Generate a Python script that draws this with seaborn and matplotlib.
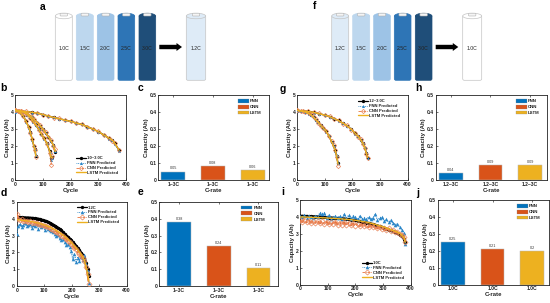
import matplotlib
matplotlib.use("Agg")
import matplotlib.pyplot as plt
from matplotlib.patches import FancyBboxPatch, Ellipse, Patch, FancyArrow
import seaborn as sns

sns.set_style("white")
plt.rcParams['font.family'] = ['Liberation Sans', 'DejaVu Sans']

W, H = 550, 303

MODEL_NAMES = ["FNN", "CNN", "LSTM"]
BAR_COLORS = ["#0072BD", "#D95319", "#EDB120"]

# ---- panel c, e, h, j bar values
c_vals = [0.05, 0.08, 0.06]
e_vals = [0.38, 0.24, 0.11]
h_vals = [0.04, 0.09, 0.09]
j_vals = [0.25, 0.21, 0.20]
c_labels = ["1~3C", "1~3C", "1~3C"]
e_labels = ["1~3C", "1~3C", "1~3C"]
h_labels = ["1.2~3C", "1.2~3C", "1.2~3C"]
j_labels = ["1.0C", "1.0C", "1.0C"]
c_text = ["0.05", "0.08", "0.06"]
e_text = ["0.38", "0.24", "0.11"]
h_text = ["0.04", "0.09", "0.09"]
j_text = ["0.25", "0.21", "0.2"]

# ---- panel b curves
b_x1 = [0, 10, 20, 30, 40, 50, 55, 62, 68, 72, 75]
b_meas1 = [4.1, 4.05, 3.95, 3.75, 3.45, 3.1, 2.8, 2.4, 2.0, 1.8, 1.42]
b_fnn1 = [4.0, 4.03, 3.93, 3.78, 3.42, 3.08, 2.82, 2.38, 2.02, 1.82, 1.45]
b_cnn1 = [4.12, 4.06, 3.96, 3.74, 3.46, 3.12, 2.78, 2.42, 1.98, 1.75, 1.38]
b_lstm1 = [4.1, 4.04, 3.95, 3.76, 3.44, 3.1, 2.8, 2.4, 2.0, 1.78, 1.42]

b_x2 = [0, 15, 30, 45, 55, 65, 75, 85, 95, 105, 115, 125, 130, 135]
b_meas2 = [4.1, 4.06, 4.0, 3.85, 3.65, 3.45, 3.25, 3.0, 2.7, 2.45, 2.15, 1.7, 1.3, 1.35]
b_fnn2 = [4.05, 4.05, 3.98, 3.83, 3.68, 3.42, 3.22, 3.02, 2.68, 2.42, 2.18, 1.65, 1.2, 1.3]
b_cnn2 = [4.12, 4.07, 4.0, 3.86, 3.63, 3.47, 3.27, 2.97, 2.72, 2.46, 2.1, 1.6, 0.9, 1.4]
b_lstm2 = [4.1, 4.06, 4.0, 3.85, 3.65, 3.45, 3.24, 3.0, 2.7, 2.45, 2.14, 1.7, 1.32, 1.36]

b_x3 = [0, 20, 40, 60, 70, 80, 90, 100, 110, 120, 130, 138, 145]
b_meas3 = [4.1, 4.05, 3.95, 3.72, 3.55, 3.38, 3.2, 3.0, 2.78, 2.55, 2.3, 2.05, 1.65]
b_fnn3 = [4.08, 4.04, 3.93, 3.74, 3.52, 3.4, 3.18, 3.02, 2.75, 2.58, 2.27, 2.07, 1.68]
b_cnn3 = [4.12, 4.06, 3.96, 3.7, 3.57, 3.36, 3.22, 2.97, 2.8, 2.52, 2.33, 2.0, 1.85]
b_lstm3 = [4.1, 4.05, 3.95, 3.72, 3.55, 3.38, 3.2, 3.0, 2.78, 2.55, 2.3, 2.05, 1.68]

b_x4 = [0, 20, 40, 60, 80, 100, 120, 140, 160, 180, 200, 220, 240, 260, 280, 300, 320, 340, 350, 360, 375]
b_meas4 = [4.1, 4.06, 4.02, 3.98, 3.95, 3.85, 3.76, 3.68, 3.6, 3.53, 3.45, 3.36, 3.27, 3.14, 3.0, 2.85, 2.65, 2.45, 2.35, 2.15, 1.75]
b_fnn4 = [4.08, 4.05, 4.0, 3.96, 3.93, 3.86, 3.74, 3.69, 3.61, 3.5, 3.46, 3.33, 3.28, 3.12, 3.02, 2.83, 2.66, 2.42, 2.38, 2.1, 1.72]
b_cnn4 = [4.1, 4.07, 4.03, 3.97, 3.96, 3.83, 3.78, 3.66, 3.62, 3.5, 3.47, 3.34, 3.3, 3.12, 3.02, 2.87, 2.62, 2.48, 2.32, 2.18, 1.78]
b_lstm4 = [4.1, 4.06, 4.02, 3.98, 3.94, 3.85, 3.76, 3.68, 3.6, 3.52, 3.45, 3.35, 3.27, 3.14, 3.0, 2.85, 2.65, 2.45, 2.35, 2.15, 1.75]

# ---- panel g curves
g_x1 = [0, 15, 30, 42, 50, 60, 68, 75, 85, 95, 105, 115, 125, 132, 138, 143, 148]
g_meas1 = [4.1, 4.06, 4.0, 3.92, 3.85, 3.7, 3.55, 3.42, 3.22, 3.05, 2.88, 2.6, 2.25, 2.0, 1.75, 1.42, 1.0]
g_fnn1 = [4.05, 4.05, 3.98, 3.9, 3.83, 3.72, 3.53, 3.4, 3.24, 3.03, 2.85, 2.62, 2.22, 1.98, 1.72, 1.45, 1.0]
g_cnn1 = [4.12, 4.07, 4.01, 3.93, 3.86, 3.68, 3.57, 3.38, 3.2, 3.07, 2.9, 2.57, 2.27, 2.03, 1.78, 1.38, 0.8]
g_lstm1 = [4.1, 4.06, 4.0, 3.92, 3.85, 3.7, 3.55, 3.42, 3.22, 3.05, 2.88, 2.6, 2.25, 2.0, 1.75, 1.42, 0.95]

g_x2 = [0, 20, 40, 60, 80, 100, 120, 135, 150, 165, 180, 195, 210, 220, 230, 238, 245, 250, 255]
g_meas2 = [4.1, 4.06, 4.03, 3.98, 3.9, 3.82, 3.72, 3.6, 3.5, 3.35, 3.2, 3.0, 2.75, 2.58, 2.38, 2.15, 1.9, 1.6, 1.3]
g_fnn2 = [4.05, 4.04, 4.01, 3.97, 3.88, 3.84, 3.7, 3.62, 3.47, 3.37, 3.18, 3.02, 2.72, 2.6, 2.35, 2.18, 1.92, 1.65, 1.3]
g_cnn2 = [4.12, 4.07, 4.04, 4.0, 3.92, 3.8, 3.74, 3.58, 3.53, 3.32, 3.22, 2.97, 2.78, 2.55, 2.42, 2.12, 1.88, 1.55, 1.3]
g_lstm2 = [4.1, 4.06, 4.03, 3.98, 3.9, 3.82, 3.72, 3.6, 3.5, 3.35, 3.2, 3.0, 2.75, 2.58, 2.38, 2.15, 1.9, 1.6, 1.32]

# ---- panel d curves
d_x = [0, 6, 12, 18, 24, 30, 36, 42, 48, 54, 60, 66, 72, 78, 84, 90, 96, 102, 108, 114,
       120, 126, 132, 138, 144, 150, 156, 162, 168, 174, 180, 186, 192, 198, 204, 210,
       216, 222, 228, 234, 240, 246, 252, 258, 262]
d_meas = [4.08, 4.08, 4.07, 4.07, 4.06, 4.06, 4.05, 4.05, 4.04, 4.03,
          4.02, 4.01, 4.0, 3.98, 3.96, 3.93, 3.9, 3.87, 3.84, 3.8,
          3.75, 3.7, 3.64, 3.58, 3.52, 3.45, 3.38, 3.3, 3.2, 3.1,
          3.0, 2.92, 2.82, 2.72, 2.6, 2.5, 2.38, 2.25, 2.12, 1.98,
          1.85, 1.7, 1.35, 1.0, 0.6]
d_fnn = [3.1, 3.55, 3.7, 3.5, 3.65, 3.75, 3.55, 3.6, 3.7, 3.45,
         3.65, 3.55, 3.7, 3.4, 3.6, 3.5, 3.55, 3.35, 3.5, 3.4,
         3.3, 3.25, 3.2, 3.1, 3.0, 3.05, 2.85, 2.75, 2.8, 2.6,
         2.45, 2.5, 2.3, 2.1, 1.6, 1.9, 1.45, 1.7, 1.5, 1.75,
         1.55, 1.85, 1.3, 0.9, 0.2]
d_cnn = [4.3, 3.98, 3.92, 3.95, 3.88, 3.84, 3.88, 3.8, 3.83, 3.76,
         3.78, 3.72, 3.75, 3.68, 3.66, 3.62, 3.64, 3.55, 3.55, 3.48,
         3.46, 3.38, 3.35, 3.28, 3.22, 3.15, 3.08, 3.0, 2.95, 2.85,
         2.8, 2.68, 2.6, 2.48, 2.4, 2.28, 2.18, 2.02, 1.92, 1.8,
         1.68, 1.5, 1.15, 0.7, 0.15]
d_lstm = [3.95, 3.93, 3.92, 3.9, 3.89, 3.88, 3.87, 3.85, 3.84, 3.82,
          3.8, 3.78, 3.76, 3.74, 3.71, 3.68, 3.65, 3.62, 3.58, 3.54,
          3.5, 3.45, 3.4, 3.35, 3.3, 3.23, 3.17, 3.1, 3.03, 2.95,
          2.87, 2.78, 2.69, 2.6, 2.48, 2.38, 2.27, 2.15, 2.02, 1.9,
          1.75, 1.55, 1.15, 0.75, 0.3]

# ---- panel i curves
i_x = [0, 8, 16, 24, 32, 40, 48, 56, 64, 72, 80, 88, 96, 104, 112, 120, 128, 136, 144, 152,
       160, 168, 176, 184, 192, 200, 208, 216, 224, 232, 240, 248, 256, 264, 272, 280,
       288, 296, 304, 312, 320, 328, 336, 344, 352, 360, 368, 376, 380]
i_meas = [4.05, 4.05, 4.04, 4.04, 4.03, 4.03, 4.02, 4.02, 4.01, 4.0,
          3.99, 3.98, 3.97, 3.96, 3.95, 3.94, 3.93, 3.92, 3.91, 3.9,
          3.89, 3.87, 3.85, 3.83, 3.81, 3.79, 3.76, 3.74, 3.72, 3.69,
          3.66, 3.63, 3.6, 3.56, 3.52, 3.48, 3.44, 3.4, 3.35, 3.3,
          3.24, 3.2, 3.15, 3.1, 3.03, 2.95, 2.85, 2.72, 2.5]
i_fnn = [4.05, 4.0, 4.1, 3.95, 4.08, 4.0, 3.95, 4.05, 4.0, 4.25,
         4.2, 4.25, 3.95, 4.1, 3.9, 4.0, 4.05, 3.95, 4.05, 3.9,
         4.15, 3.95, 4.1, 3.9, 4.05, 4.0, 3.85, 4.05, 3.9, 3.95,
         3.85, 4.0, 3.85, 3.95, 4.15, 3.8, 3.95, 4.0, 3.75, 3.85,
         3.7, 3.8, 3.65, 3.55, 3.6, 3.4, 3.25, 3.05, 2.4]
i_cnn = [3.8, 3.7, 3.82, 3.68, 3.78, 3.66, 3.76, 3.65, 3.75, 3.62,
         3.74, 3.6, 3.72, 3.58, 3.7, 3.56, 3.7, 3.55, 3.66, 3.55,
         3.68, 3.52, 3.65, 3.5, 3.62, 3.48, 3.6, 3.46, 3.56, 3.44,
         3.54, 3.4, 3.5, 3.38, 3.46, 3.32, 3.42, 3.28, 3.36, 3.22,
         3.32, 3.18, 3.22, 3.1, 3.1, 2.98, 2.95, 2.8, 2.55]
i_lstm = [4.0, 4.0, 3.99, 3.99, 3.98, 3.98, 3.97, 3.97, 3.96, 3.96,
          3.95, 3.95, 3.94, 3.93, 3.92, 3.92, 3.91, 3.9, 3.89, 3.88,
          3.87, 3.86, 3.85, 3.84, 3.82, 3.8, 3.78, 3.76, 3.74, 3.72,
          3.69, 3.66, 3.63, 3.6, 3.56, 3.52, 3.48, 3.44, 3.4, 3.35,
          3.3, 3.25, 3.2, 3.15, 3.1, 3.02, 2.92, 2.78, 2.5]

# ---- schematic cells
a_cells = ["1.0C", "1.5C", "2.0C", "2.5C", "3.0C", "1.2C"]
f_cells = ["1.2C", "1.5C", "2.0C", "2.5C", "3.0C", "1.0C"]
CELL_COLOR = {"1.0C": "#FFFFFF", "1.2C": "#DEEBF7", "1.5C": "#BDD7EE",
              "2.0C": "#9DC3E6", "2.5C": "#2E75B6", "3.0C": "#1F4E79"}

fig = plt.figure(figsize=(5.5, 3.03), dpi=100)


def px_axes(l, t, r, b):
    ax = fig.add_axes([l / W, 1 - b / H, (r - l) / W, (b - t) / H])
    for s in ax.spines.values():
        s.set_linewidth(0.6)
        s.set_color("#222222")
    ax.tick_params(axis="both", direction="in", length=1.4, width=0.45, pad=1.2,
                   labelsize=3.6, colors="#222222", bottom=True, left=True)
    return ax


def style_text(ax, xlabel):
    ax.set_xlabel(xlabel, fontsize=4.3, fontweight="bold", labelpad=0.8, color="#222222")
    ax.set_ylabel("Capacity (Ah)", fontsize=4.3, fontweight="bold", labelpad=0.6, color="#222222")
    for lab in ax.get_xticklabels() + ax.get_yticklabels():
        lab.set_fontweight("bold")


def draw_series(ax, x, y, kind, label=None, heavy=False):
    if kind == "meas":
        sns.lineplot(x=x, y=y, ax=ax, color="black", lw=2.0 if heavy else 1.0, marker="o",
                     ms=2.4, mew=0, estimator=None, label=label, zorder=3)
    elif kind == "fnn":
        sns.lineplot(x=x, y=y, ax=ax, color="#2A86C8", lw=0.8 if heavy else 0.6, ls=(0, (1, 1)), marker="^",
                     ms=2.6 if heavy else 2.2, mew=0, estimator=None, label=label, zorder=4)
    elif kind == "cnn":
        sns.lineplot(x=x, y=y, ax=ax, color="#E8743B", lw=1.4 if heavy else 0.6, ls=(0, (3, 1, 1, 1)), marker="D",
                     ms=2.6 if heavy else 2.2, mfc="none", mec="#E8855A", mew=0.5, estimator=None, label=label, zorder=5)
    else:
        sns.lineplot(x=x, y=y, ax=ax, color="#EDB120", lw=1.0, estimator=None, label=label, zorder=6)


def line_panel(ax, curves, first_label, heavy=False, loc=(0.55, 0.06)):
    kinds = ["meas", "fnn", "cnn", "lstm"]
    names = [first_label, "FNN Predicted", "CNN Predicted", "LSTM Predicted"]
    for n, (x, series) in enumerate(curves):
        for kind, name, y in zip(kinds, names, series):
            draw_series(ax, x, y, kind, label=name if n == 0 else None, heavy=heavy)
    ax.set_xlim(0, 400)
    ax.set_ylim(0, 5)
    ax.set_xticks([0, 100, 200, 300, 400])
    ax.set_yticks([0, 1, 2, 3, 4, 5])
    style_text(ax, "Cycle")
    leg = ax.legend(loc="lower left", bbox_to_anchor=loc, frameon=False,
                    prop={"size": 3.0, "weight": "bold"}, labelspacing=0.2,
                    handlelength=2.4, handletextpad=0.25, borderpad=0, borderaxespad=0)
    for t in leg.get_texts():
        t.set_color("#222222")
    leg.get_lines()[0].set_linewidth(0.9)
    for line in leg.get_lines()[1:3]:
        line.set_linewidth(0.6)


def bar_panel(ax, vals, labels, texts, xlim=(-0.38, 2.42), leg_x=0.93):
    sns.barplot(x=MODEL_NAMES, y=vals, hue=MODEL_NAMES, palette=BAR_COLORS, ax=ax,
                width=0.6, saturation=1, legend=False, edgecolor="#B8B8B8", linewidth=0.35)
    ax.set_xlim(*xlim)
    ax.set_ylim(0, 0.5)
    ax.set_xticks([0, 1, 2])
    ax.set_xticklabels(labels)
    ax.set_yticks([0, 0.1, 0.2, 0.3, 0.4, 0.5])
    ax.set_yticklabels(["0", "0.1", "0.2", "0.3", "0.4", "0.5"])
    ax.tick_params(axis="x", top=True, bottom=True)
    style_text(ax, "C-rate")
    for i, (v, s) in enumerate(zip(vals, texts)):
        ax.text(i, v + 0.006, s, ha="center", va="bottom", fontsize=2.7, color="#333333")
    handles = [Patch(facecolor=c, edgecolor="#888888", linewidth=0.2, label=n)
               for c, n in zip(BAR_COLORS, MODEL_NAMES)]
    leg = ax.legend(handles=handles, loc="upper right", bbox_to_anchor=(leg_x, 0.955), frameon=False,
                    prop={"size": 3.2, "weight": "bold"}, labelspacing=0.3, handlelength=2.5,
                    handleheight=1.0, handletextpad=0.25, borderpad=0, borderaxespad=0)
    for t in leg.get_texts():
        t.set_color("#222222")


# line panels
ax_b = px_axes(15, 95, 126, 180)
line_panel(ax_b,
           [(b_x1, (b_meas1, b_fnn1, b_cnn1, b_lstm1)),
            (b_x2, (b_meas2, b_fnn2, b_cnn2, b_lstm2)),
            (b_x3, (b_meas3, b_fnn3, b_cnn3, b_lstm3)),
            (b_x4, (b_meas4, b_fnn4, b_cnn4, b_lstm4))],
           "1.0~3.0C", loc=(0.55, 0.06))
ax_d = px_axes(16.7, 201.7, 126.7, 286.3)
line_panel(ax_d, [(d_x, (d_meas, d_fnn, d_cnn, d_lstm))], "1.2C", heavy=True, loc=(0.548, 0.736))
ax_g = px_axes(297, 95, 407.7, 180)
line_panel(ax_g,
           [(g_x1, (g_meas1, g_fnn1, g_cnn1, g_lstm1)),
            (g_x2, (g_meas2, g_fnn2, g_cnn2, g_lstm2))],
           "1.2~3.0C", loc=(0.55, 0.73))
ax_i = px_axes(300, 200, 410.7, 284.7)
line_panel(ax_i, [(i_x, (i_meas, i_fnn, i_cnn, i_lstm))], "1.0C", heavy=True, loc=(0.557, 0.06))

# bar panels
bar_panel(px_axes(158.3, 95, 269.3, 180), c_vals, c_labels, c_text, leg_x=0.93)
bar_panel(px_axes(159.3, 201.7, 278.3, 286.3), e_vals, e_labels, e_text, xlim=(-0.5, 2.5), leg_x=0.89)
bar_panel(px_axes(435.7, 95, 546.7, 180), h_vals, h_labels, h_text, leg_x=0.934)
bar_panel(px_axes(437.7, 200, 549, 284.7), j_vals, j_labels, j_text, leg_x=0.925)

# overlay in pixel coordinates: schematic and panel letters
ov = fig.add_axes([0, 0, 1, 1], facecolor="none")
ov.set_xlim(0, W)
ov.set_ylim(H, 0)
ov.axis("off")


def battery(x0, x1, label):
    top, bottom = 13.5, 80.3
    face = CELL_COLOR[label]
    edge = "#C4C4C4" if label in ("1.0C", "1.2C") else face
    ov.add_patch(FancyBboxPatch((x0, top + 2), x1 - x0, bottom - top - 2,
                                boxstyle="round,pad=0,rounding_size=1.6",
                                fc=face, ec=edge, lw=0.5))
    ov.add_patch(Ellipse(((x0 + x1) / 2, top + 2.5), x1 - x0, 5.5, fc=face, ec=edge, lw=0.5))
    ov.add_patch(FancyBboxPatch(((x0 + x1) / 2 - 3.7, top - 0.3), 7.4, 2.8,
                                boxstyle="round,pad=0,rounding_size=0.8",
                                fc="#F5F5F5", ec="#B0B0B0", lw=0.4))
    ov.text((x0 + x1) / 2, 48, label, ha="center", va="center", fontsize=3.7,
            color="#222222")


a_spans = [(55.3, 72.3), (76.3, 93.3), (97.3, 114), (118, 134.7), (139, 155.7), (186.3, 205.7)]
f_spans = [(331.7, 348.7), (352.7, 369.7), (373.7, 390.3), (394.3, 411), (415.3, 432), (462.7, 481.7)]
for (x0, x1), lab in zip(a_spans, a_cells):
    battery(x0, x1, lab)
for (x0, x1), lab in zip(f_spans, f_cells):
    battery(x0, x1, lab)
for x0, x1 in [(159.3, 182), (435.7, 458.3)]:
    ov.add_patch(FancyArrow(x0, 47, x1 - x0, 0, width=4.4, head_width=8, head_length=5.5,
                            length_includes_head=True, fc="black", ec="black", lw=0))

letters = {"a": (43, 7), "b": (3.5, 88), "c": (140, 88), "d": (4, 193), "e": (140, 192),
           "f": (315, 6), "g": (283, 89), "h": (418, 88), "i": (283, 192), "j": (418, 193)}
for k, (x, y) in letters.items():
    ov.text(x, y, k, ha="center", va="center", fontsize=7.5, fontweight="bold", color="black")

fig.savefig("out.png", dpi=100)
